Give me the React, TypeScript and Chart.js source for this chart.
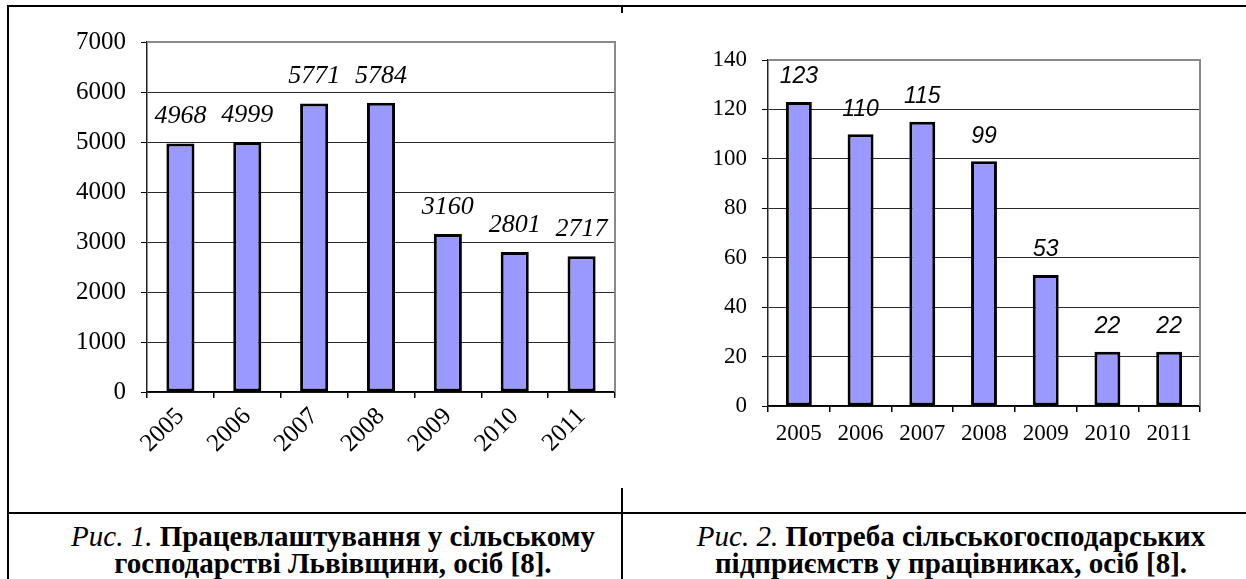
import React, { useEffect, useRef } from 'react';
import { Chart, registerables } from 'chart.js';

Chart.register(...registerables);

// ---- data ----
const years: string[] = ['2005', '2006', '2007', '2008', '2009', '2010', '2011'];
const employment: number[] = [4968, 4999, 5771, 5784, 3160, 2801, 2717];
const demand: number[] = [123, 110, 115, 99, 53, 22, 22];
const employmentAxis = { min: 0, max: 7000, step: 1000 };
const demandAxis = { min: 0, max: 140, step: 20 };
const caption1Italic = 'Рис. 1.';
const caption1Bold = ['Працевлаштування у сільському', 'господарстві Львівщини, осіб [8].'];
const caption2Italic = 'Рис. 2.';
const caption2Bold = ['Потреба сільськогосподарських', 'підприємств у працівниках, осіб [8].'];

const SERIF = "'Liberation Serif', 'Times New Roman', serif";
const SANS = "'Liberation Sans', Arial, sans-serif";

type Cfg = {
  labels: string[];
  values: number[];
  axis: { min: number; max: number; step: number };
  yAxisWidth: number;
  xAxisHeight: number;
  padTop: number;
  padRight: number;
  yFontSize: number;
  yPad: number;
  xFontSize: number;
  xPad: number;
  rotate: number;
  labelFont: string;
  labelOffset: number;
};

function makePlugin(cfg: Cfg) {
  return {
    id: 'frameAndLabels',
    beforeDatasetsDraw(chart: any) {
      const { ctx, chartArea } = chart;
      ctx.save();
      ctx.strokeStyle = '#8a8a8a';
      ctx.lineWidth = 2;
      ctx.beginPath();
      ctx.moveTo(chartArea.left, chartArea.top);
      ctx.lineTo(chartArea.right, chartArea.top);
      ctx.lineTo(chartArea.right, chartArea.bottom);
      ctx.stroke();
      ctx.restore();
    },
    afterDatasetsDraw(chart: any) {
      const { ctx } = chart;
      const meta = chart.getDatasetMeta(0);
      const data = chart.data.datasets[0].data;
      ctx.save();
      ctx.font = cfg.labelFont;
      ctx.fillStyle = '#000';
      ctx.textAlign = 'center';
      ctx.textBaseline = 'middle';
      meta.data.forEach((el: any, i: number) => {
        ctx.fillText(String(data[i]), el.x, el.y - cfg.labelOffset);
      });
      ctx.restore();
    },
  };
}

function BarChart({ cfg, width, height }: { cfg: Cfg; width: number; height: number }) {
  const ref = useRef<HTMLCanvasElement>(null);
  useEffect(() => {
    if (!ref.current) return;
    const max = cfg.axis.max;
    const chart = new Chart(ref.current, {
      type: 'bar',
      data: {
        labels: cfg.labels,
        datasets: [
          {
            data: cfg.values,
            backgroundColor: '#9999ff',
            borderColor: '#000000',
            borderWidth: 3,
            borderSkipped: false,
            categoryPercentage: 1,
            barPercentage: 0.42,
          },
        ],
      },
      options: {
        animation: false,
        responsive: false,
        devicePixelRatio: 1,
        layout: { padding: { top: cfg.padTop, right: cfg.padRight, left: 0, bottom: 0 } },
        plugins: { legend: { display: false }, tooltip: { enabled: false }, title: { display: false } },
        scales: {
          x: {
            offset: true,
            grid: {
              display: true,
              offset: true,
              drawOnChartArea: false,
              drawTicks: true,
              tickLength: 6,
              color: '#000',
              tickColor: '#000',
              lineWidth: 1.5,
            },
            border: { display: true, color: '#000', width: 1.5 },
            ticks: {
              autoSkip: false,
              maxRotation: cfg.rotate,
              minRotation: cfg.rotate,
              padding: cfg.xPad,
              color: '#000',
              font: { family: SERIF, size: cfg.xFontSize },
            },
            afterFit: (scale: any) => {
              scale.height = cfg.xAxisHeight;
            },
          },
          y: {
            min: cfg.axis.min,
            max: cfg.axis.max,
            grid: {
              color: (c: any) => (c.tick && c.tick.value === max ? 'rgba(0,0,0,0)' : '#2a2a2a'),
              tickColor: '#000',
              lineWidth: 1,
              tickLength: 6,
              drawTicks: true,
            },
            border: { display: true, color: '#222', width: 1.5 },
            ticks: {
              stepSize: cfg.axis.step,
              padding: cfg.yPad,
              color: '#000',
              font: { family: SERIF, size: cfg.yFontSize },
              callback: (v: any) => String(v),
            },
            afterFit: (scale: any) => {
              scale.width = cfg.yAxisWidth;
            },
          },
        },
      },
      plugins: [makePlugin(cfg)],
    } as any);
    return () => chart.destroy();
  }, [cfg]);
  return <canvas ref={ref} width={width} height={height} style={{ display: 'block', width, height }} />;
}

const cfg1: Cfg = {
  labels: years,
  values: employment,
  axis: employmentAxis,
  yAxisWidth: 147,
  xAxisHeight: 108,
  padTop: 42,
  padRight: 7,
  yFontSize: 25,
  yPad: 15,
  xFontSize: 25,
  xPad: 4,
  rotate: 45,
  labelFont: `italic 26px ${SERIF}`,
  labelOffset: 27,
};

const cfg2: Cfg = {
  labels: years,
  values: demand,
  axis: demandAxis,
  yAxisWidth: 146,
  xAxisHeight: 94,
  padTop: 60,
  padRight: 46,
  yFontSize: 23,
  yPad: 15,
  xFontSize: 23,
  xPad: 8,
  rotate: 0,
  labelFont: `italic 23px ${SANS}`,
  labelOffset: 25,
};

const line = (left: number, top: number, width: number, height: number): React.CSSProperties => ({
  position: 'absolute',
  left,
  top,
  width,
  height,
  background: '#000',
  zIndex: 3,
});

function Caption({ left, width, italic, bold }: { left: number; width: number; italic: string; bold: string[] }) {
  return (
    <div
      style={{
        position: 'absolute',
        left,
        top: 523,
        width,
        textAlign: 'center',
        fontFamily: SERIF,
        fontSize: 29,
        lineHeight: '27px',
        color: '#000',
        whiteSpace: 'nowrap',
      }}
    >
      <div>
        <span style={{ fontStyle: 'italic' }}>{italic}</span> <span style={{ fontWeight: 'bold' }}>{bold[0]}</span>
      </div>
      <div style={{ fontWeight: 'bold' }}>{bold[1]}</div>
    </div>
  );
}

export default function App() {
  return (
    <div
      style={{
        position: 'fixed',
        left: 0,
        top: 0,
        width: 1246,
        height: 579,
        background: '#fff',
        overflow: 'hidden',
      }}
    >
      <div style={{ position: 'absolute', left: 0, top: 0 }}>
        <BarChart cfg={cfg1} width={622} height={500} />
      </div>
      <div style={{ position: 'absolute', left: 622, top: 0 }}>
        <BarChart cfg={cfg2} width={624} height={500} />
      </div>
      <div style={line(7, 5, 1239, 2)} />
      <div style={line(7, 5, 2, 574)} />
      <div style={line(621, 5, 2, 8)} />
      <div style={line(621, 488, 2, 91)} />
      <div style={line(7, 512, 1239, 2)} />
      <Caption left={45} width={576} italic={caption1Italic} bold={caption1Bold} />
      <Caption left={656} width={590} italic={caption2Italic} bold={caption2Bold} />
    </div>
  );
}
